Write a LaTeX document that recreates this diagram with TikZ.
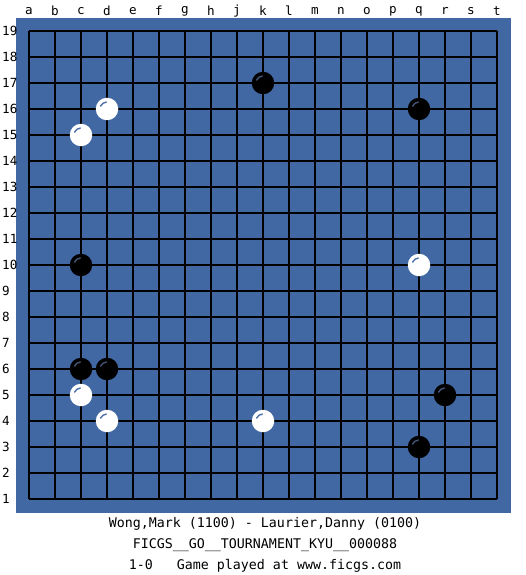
\documentclass[tikz,border=0pt]{standalone}
\usepackage{fontspec}
\setmonofont{DejaVu Sans Mono}
\usepackage{tikz}
\usetikzlibrary{calc}
\definecolor{BoardFill}{RGB}{66,104,163}
\definecolor{HiBlack}{RGB}{72,84,118}
\definecolor{HiWhite}{RGB}{78,110,168}
\tikzset{
  st_black/.style={
    circle, fill=black, minimum size=22.5pt, inner sep=0pt},
  st_white/.style={
    circle, fill=white, minimum size=22.5pt, inner sep=0pt},
  hi_black/.style={draw=HiBlack, line width=1.4pt, line cap=round},
  hi_white/.style={draw=HiWhite, line width=1.4pt, line cap=round},
  grid_ln/.style={draw=black, line width=1.5pt},
  lbl/.style={font=\ttfamily\fontsize{12.6}{14}\selectfont, inner sep=0pt},
  info/.style={font=\ttfamily\fontsize{13.3}{21}\selectfont, inner sep=0pt, align=center},
}

\begin{document}
\begin{tikzpicture}[x=1pt,y=-1pt]
\useasboundingbox[fill=white] (0,0) rectangle (525,575);
% board
\fill[BoardFill] (16,18) rectangle (511,513);
\foreach \i in {0,...,18} {
  \draw[grid_ln] (29+26*\i,31) -- (29+26*\i,499);
  \draw[grid_ln] (29,31+26*\i) -- (497,31+26*\i);
}
% coordinates
\foreach \l [count=\i from 0] in {a,b,c,d,e,f,g,h,j,k,l,m,n,o,p,q,r,s,t}
  \node[lbl] (col-\l) at (29+26*\i,11) {\l};
\foreach \r in {1,...,19}
  \node[lbl,anchor=west] (row-\r) at (2,31+26*19-26*\r) {\r};
% stones
\foreach \c/\r in {9/17,15/16,2/10,2/6,3/6,16/5,15/3} {
  \node[st_black] (b\c-\r) at (29+26*\c,31+26*19-26*\r) {};
  \draw[hi_black] ($(b\c-\r.center)+(205:7)$) arc (205:265:7);
}
\foreach \c/\r in {3/16,2/15,15/10,2/5,3/4,9/4} {
  \node[st_white] (w\c-\r) at (29+26*\c,31+26*19-26*\r) {};
  \draw[hi_white] ($(w\c-\r.center)+(205:7)$) arc (205:265:7);
}
% game info
\node[info] (players) at (265,524) {Wong,Mark (1100) - Laurier,Danny (0100)};
\node[info] (event) at (265,545) {FICGS\_\_GO\_\_TOURNAMENT\_KYU\_\_000088};
\node[info] (result) at (265,566) {1-0\ \ \ Game played at www.ficgs.com};
\end{tikzpicture}
\end{document}
